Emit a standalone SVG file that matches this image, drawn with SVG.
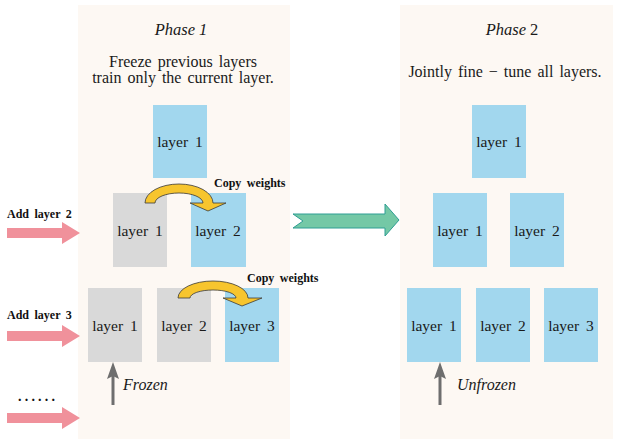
<svg xmlns="http://www.w3.org/2000/svg" width="618" height="445" viewBox="0 0 618 445">
<defs>
<style>
.panel{fill:#fdf8f3}
.blue{fill:#a2d7ee}
.gray{fill:#d9d9d9}
.lt{font-family:"Liberation Serif","Times New Roman",serif;font-size:15.5px;fill:#1a1a1a;text-anchor:middle;word-spacing:3px}
.title{font-family:"Liberation Serif","Times New Roman",serif;font-size:16.5px;font-style:italic;fill:#1a1a1a;text-anchor:middle}
.desc{font-family:"Liberation Serif","Times New Roman",serif;font-size:16px;fill:#1a1a1a;text-anchor:middle;word-spacing:2px}
.bold{font-family:"Liberation Serif","Times New Roman",serif;font-size:12px;font-weight:bold;fill:#111;word-spacing:2.5px}
.it{font-family:"Liberation Serif","Times New Roman",serif;font-size:16px;font-style:italic;fill:#1a1a1a}
.pink{fill:#f0919b}
.copy{fill:#f7c52e;stroke:#3a3a3a;stroke-width:0.8}
.up{stroke:#6e6e6e;stroke-width:3;fill:none}
.uphead{fill:#6e6e6e}
</style>
</defs>
<rect class="panel" x="78" y="5" width="212" height="434"/>
<rect class="panel" x="400" y="5" width="213" height="434"/>

<g id="phase1-title">
<text class="title" x="181" y="35">Phase 1</text>
<text class="desc" x="183" y="67">Freeze previous layers</text>
<text class="desc" x="183" y="83">train only the current layer.</text>
</g>
<g id="phase2-title">
<text class="title" x="512" y="35">Phase <tspan font-style="normal">2</tspan></text>
<text class="desc" x="505" y="77">Jointly fine − tune all layers.</text>
</g>

<g id="p1-top-l1"><rect class="blue" x="153" y="105" width="54" height="73"/><text class="lt" x="180" y="147">layer 1</text></g>
<g id="p1-r2-l1"><rect class="gray" x="113" y="193" width="54" height="74"/><text class="lt" x="140" y="236">layer 1</text></g>
<g id="p1-r2-l2"><rect class="blue" x="191" y="193" width="55" height="74"/><text class="lt" x="218" y="236">layer 2</text></g>
<g id="p1-r3-l1"><rect class="gray" x="88" y="288" width="54" height="74"/><text class="lt" x="115" y="331">layer 1</text></g>
<g id="p1-r3-l2"><rect class="gray" x="157" y="288" width="54" height="74"/><text class="lt" x="184" y="331">layer 2</text></g>
<g id="p1-r3-l3"><rect class="blue" x="225" y="288" width="54" height="74"/><text class="lt" x="252" y="331">layer 3</text></g>

<g id="p2-top-l1"><rect class="blue" x="472" y="105" width="54" height="73"/><text class="lt" x="499" y="147">layer 1</text></g>
<g id="p2-r2-l1"><rect class="blue" x="433" y="193" width="54" height="74"/><text class="lt" x="460" y="236">layer 1</text></g>
<g id="p2-r2-l2"><rect class="blue" x="510" y="193" width="54" height="74"/><text class="lt" x="537" y="236">layer 2</text></g>
<g id="p2-r3-l1"><rect class="blue" x="407" y="288" width="54" height="74"/><text class="lt" x="434" y="331">layer 1</text></g>
<g id="p2-r3-l2"><rect class="blue" x="476" y="288" width="54" height="74"/><text class="lt" x="503" y="331">layer 2</text></g>
<g id="p2-r3-l3"><rect class="blue" x="544" y="288" width="54" height="74"/><text class="lt" x="571" y="331">layer 3</text></g>

<g id="connectors">
<path class="copy" d="M145,203 A34,19 0 0 1 213,203 L226,203 L208,211 L190,203 L203,203 A24,10 0 0 0 155,203 Z"/>
<path class="copy" d="M178,298 A35,17 0 0 1 248,298 L262,298 L242,306 L223,298 L236,298 A23,8 0 0 0 190,298 Z"/>
<path class="pink" d="M7,228 H62 V222 L80,233 L62,244 V238 H7 Z"/>
<path class="pink" d="M7,331 H62 V325 L80,336 L62,347 V341 H7 Z"/>
<path class="pink" d="M7,413 H62 V407 L80,418 L62,429 V423 H7 Z"/>
<path d="M293,214 H385 V204 L399,220 L385,236 V228 H293 L303,221 Z" fill="#74c8a6" stroke="#2e9e94" stroke-width="1"/>
<line class="up" x1="113" y1="405" x2="113" y2="374"/>
<path class="uphead" d="M113,362 L119,379 L113,376 L107,379 Z"/>
<line class="up" x1="440" y1="405" x2="440" y2="374"/>
<path class="uphead" d="M440,362 L446,379 L440,376 L434,379 Z"/>
</g>

<g id="labels">
<text class="bold" x="214" y="187">Copy weights</text>
<text class="bold" x="247" y="282">Copy weights</text>
<text class="bold" x="7" y="218">Add layer 2</text>
<text class="bold" x="7" y="319">Add layer 3</text>
<text x="18" y="401" font-family="Liberation Serif,serif" font-size="14" font-weight="bold" letter-spacing="3.2" fill="#111">......</text>
<text class="it" x="123" y="390">Frozen</text>
<text class="it" x="457" y="390">Unfrozen</text>
</g>
</svg>
